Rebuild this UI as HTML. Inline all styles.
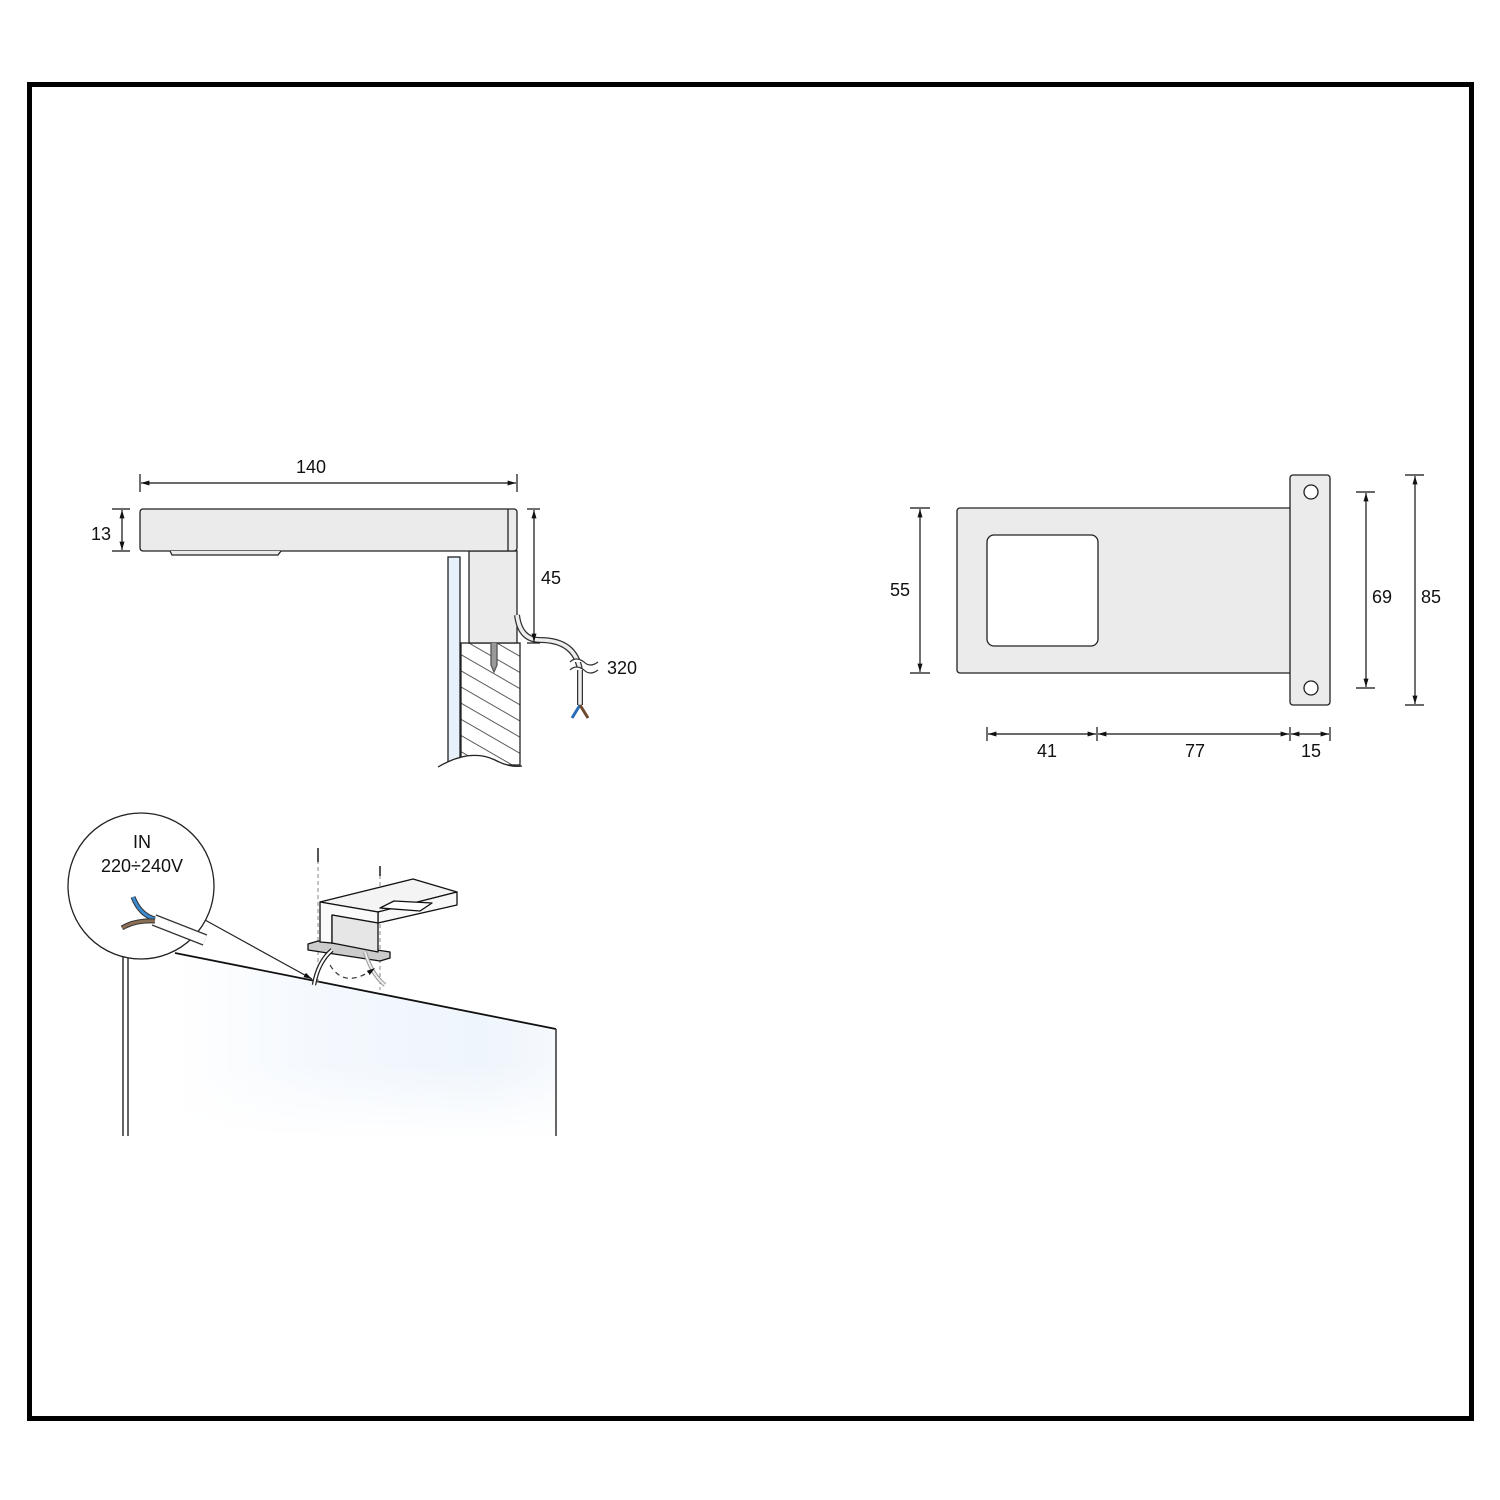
<!DOCTYPE html>
<html><head><meta charset="utf-8"><style>html,body{margin:0;padding:0;background:#fff}svg{display:block}text{font-family:"Liberation Sans",sans-serif;font-size:18px;fill:#111}</style></head><body>
<svg width="1500" height="1500" viewBox="0 0 1500 1500" xmlns="http://www.w3.org/2000/svg">
<defs>
<marker id="a" viewBox="0 0 10 10" refX="10" refY="5" markerWidth="7" markerHeight="7" orient="auto-start-reverse"><path d="M0,2 L10,5 L0,8z" fill="#111"/></marker>
<pattern id="h" width="14" height="14" patternUnits="userSpaceOnUse" patternTransform="rotate(30)"><rect width="14" height="14" fill="#fff"/><line x1="0" y1="0" x2="14" y2="0" stroke="#333" stroke-width="1.6"/></pattern>
<linearGradient id="mg" x1="0" y1="0" x2="1" y2="0"><stop offset="0" stop-color="#fff"/><stop offset="0.35" stop-color="#f5f9fe"/><stop offset="0.8" stop-color="#eef5fc"/><stop offset="1" stop-color="#f6f9fd"/></linearGradient>
<linearGradient id="mv" x1="0" y1="0" x2="0" y2="1"><stop offset="0.6" stop-color="#fff" stop-opacity="0"/><stop offset="1" stop-color="#fff" stop-opacity="1"/></linearGradient>
</defs>
<rect x="29.5" y="84.5" width="1442" height="1334" fill="none" stroke="#000" stroke-width="5"/>

<!-- side view -->
<g stroke="#222" stroke-width="1.3">
<rect x="448" y="557" width="12" height="208" fill="#e6f1fb"/>
<rect x="461" y="643" width="59" height="122" fill="url(#h)"/>
<path d="M438,767 Q470,748 495,760 Q510,768 522,766" fill="#fff" stroke="#222"/>
<rect x="469" y="551" width="48" height="92" fill="#ebebeb"/>
<rect x="140" y="509" width="377" height="42" rx="3" fill="#ebebeb"/>
<line x1="508" y1="509" x2="508" y2="551"/>
<path d="M170,551 L172,555 L278,555 L281,551" fill="#ebebeb"/>
<path d="M491,643 L491,665 L494,672 L497,665 L497,643" fill="#999" stroke="#555"/>
</g>
<g fill="none">
<path d="M517,615 Q520,640 540,640 Q575,640 580,670 L580,705" stroke="#333" stroke-width="6"/>
<path d="M517,615 Q520,640 540,640 Q575,640 580,670 L580,705" stroke="#eee" stroke-width="3.5"/>
<path d="M580,705 L572,718" stroke="#2a6db5" stroke-width="3"/>
<path d="M580,705 L588,718" stroke="#6b4a2e" stroke-width="3"/>
<path d="M570,662 Q576,656 584,662 Q590,668 598,662 M570,670 Q576,664 584,670 Q590,676 598,670" stroke="#333" stroke-width="1.2" fill="#fff"/>
</g>
<g stroke="#111" stroke-width="1.2" fill="none">
<line x1="140" y1="474" x2="140" y2="492"/><line x1="517" y1="474" x2="517" y2="492"/>
<line x1="141" y1="483" x2="516" y2="483" marker-start="url(#a)" marker-end="url(#a)"/>
<line x1="112" y1="509" x2="130" y2="509"/><line x1="112" y1="551" x2="130" y2="551"/>
<line x1="122" y1="510" x2="122" y2="550" marker-start="url(#a)" marker-end="url(#a)"/>
<line x1="527" y1="509" x2="540" y2="509"/><line x1="527" y1="643" x2="540" y2="643"/>
<line x1="534" y1="510" x2="534" y2="642" marker-start="url(#a)" marker-end="url(#a)"/>
</g>
<text x="311" y="473" text-anchor="middle">140</text>
<text x="101" y="540" text-anchor="middle">13</text>
<text x="551" y="584" text-anchor="middle">45</text>
<text x="622" y="674" text-anchor="middle">320</text>

<!-- top view -->
<g stroke="#222" stroke-width="1.3">
<rect x="957" y="508" width="340" height="165" rx="3" fill="#ebebeb"/>
<rect x="987" y="535" width="111" height="111" rx="7" fill="#fff"/>
<rect x="1290" y="475" width="40" height="230" rx="3" fill="#ebebeb"/>
<circle cx="1311" cy="492" r="7" fill="#fff"/><circle cx="1311" cy="688" r="7" fill="#fff"/>
</g>
<g stroke="#111" stroke-width="1.2" fill="none">
<line x1="910" y1="508" x2="930" y2="508"/><line x1="910" y1="673" x2="930" y2="673"/>
<line x1="920" y1="509" x2="920" y2="672" marker-start="url(#a)" marker-end="url(#a)"/>
<line x1="1356" y1="492" x2="1375" y2="492"/><line x1="1356" y1="688" x2="1375" y2="688"/>
<line x1="1366" y1="493" x2="1366" y2="687" marker-start="url(#a)" marker-end="url(#a)"/>
<line x1="1405" y1="475" x2="1424" y2="475"/><line x1="1405" y1="705" x2="1424" y2="705"/>
<line x1="1415" y1="476" x2="1415" y2="704" marker-start="url(#a)" marker-end="url(#a)"/>
<line x1="987" y1="727" x2="987" y2="741"/><line x1="1097" y1="727" x2="1097" y2="741"/><line x1="1290" y1="727" x2="1290" y2="741"/><line x1="1330" y1="727" x2="1330" y2="741"/>
<line x1="988" y1="734" x2="1096" y2="734" marker-start="url(#a)" marker-end="url(#a)"/>
<line x1="1098" y1="734" x2="1289" y2="734" marker-start="url(#a)" marker-end="url(#a)"/>
<line x1="1291" y1="734" x2="1329" y2="734" marker-start="url(#a)" marker-end="url(#a)"/>
</g>
<text x="900" y="596" text-anchor="middle">55</text>
<text x="1382" y="603" text-anchor="middle">69</text>
<text x="1431" y="603" text-anchor="middle">85</text>
<text x="1047" y="757" text-anchor="middle">41</text>
<text x="1195" y="757" text-anchor="middle">77</text>
<text x="1311" y="757" text-anchor="middle">15</text>

<!-- bottom illustration -->
<path d="M175,953 L556,1029 L556,1138 L175,1138Z" fill="url(#mg)"/>
<path d="M175,953 L556,1029 L556,1138 L175,1138Z" fill="url(#mv)"/>
<line x1="175" y1="953" x2="556" y2="1029" stroke="#111" stroke-width="1.8"/>
<line x1="556" y1="1029" x2="556" y2="1136" stroke="#333" stroke-width="1.5"/>
<line x1="123" y1="955" x2="123" y2="1136" stroke="#222" stroke-width="1.4"/>
<line x1="128" y1="955" x2="128" y2="1136" stroke="#222" stroke-width="1.4"/>
<circle cx="141" cy="886" r="73" fill="#fff" stroke="#222" stroke-width="1.3"/>
<line x1="205" y1="920" x2="312" y2="979" stroke="#222" stroke-width="1.2" marker-end="url(#a)"/>
<text x="142" y="848" text-anchor="middle">IN</text>
<text x="142" y="872" text-anchor="middle">220÷240V</text>
<path d="M154,920 L205,940" stroke="#333" stroke-width="12" stroke-linecap="butt"/>
<path d="M154,920 L205,940" stroke="#fff" stroke-width="9.5"/>
<path d="M155,919 Q140,915 133,897" stroke="#333" stroke-width="5" fill="none"/>
<path d="M155,919 Q140,915 133,897" stroke="#3a8ad0" stroke-width="3" fill="none"/>
<path d="M155,921 Q135,920 122,928" stroke="#333" stroke-width="5" fill="none"/>
<path d="M155,921 Q135,920 122,928" stroke="#8a6e55" stroke-width="3" fill="none"/>
<g stroke="#888" stroke-width="1" stroke-dasharray="4,3">
<line x1="318" y1="860" x2="318" y2="985"/><line x1="380" y1="875" x2="380" y2="990"/>
</g>
<g stroke="#555" stroke-width="2"><line x1="318" y1="848" x2="318" y2="862"/><line x1="380" y1="866" x2="380" y2="876"/></g>
<g stroke="#111" stroke-width="1.3" stroke-linejoin="round">
<path d="M308,944 L318,941 L390,952 L390,958 L380,961 L308,950Z" fill="#ccc"/>
<path d="M320,902 L413,879 L457,892 L378,912Z" fill="#f4f4f4"/>
<path d="M378,912 L457,892 L457,905 L378,923Z" fill="#f8f8f8"/>
<path d="M320,902 L378,912 L378,923 L332,915 L332,943 L320,942Z" fill="#fafafa"/>
<path d="M332,915 L378,923 L378,952 L332,943Z" fill="#e6e6e6"/>
<path d="M380,908 L394,901 L432,903 L420,911Z" fill="#fff"/>
</g>
<path d="M314,985 Q318,962 332,950" stroke="#222" stroke-width="4.5" fill="none"/>
<path d="M314,985 Q318,962 332,950" stroke="#fff" stroke-width="2" fill="none"/>
<path d="M365,952 Q372,975 385,985" stroke="#999" stroke-width="4" fill="none"/>
<path d="M365,952 Q372,975 385,985" stroke="#eee" stroke-width="2" fill="none"/>
<path d="M330,965 Q345,990 375,968" stroke="#333" stroke-width="1.2" stroke-dasharray="5,4" fill="none" marker-end="url(#a)"/>
</svg>
</body></html>
